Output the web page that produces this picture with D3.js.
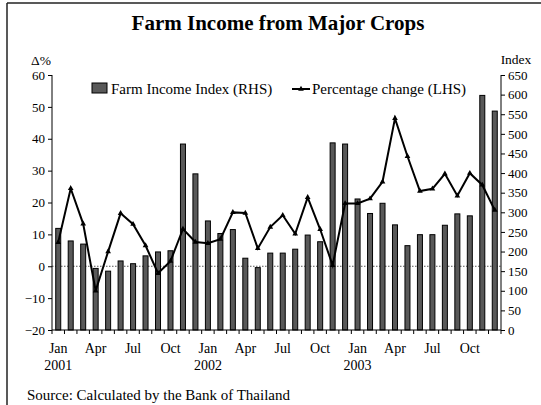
<!DOCTYPE html>
<html><head><meta charset="utf-8">
<script src="https://cdn.jsdelivr.net/npm/d3@7"></script>
<style>
body{margin:0;background:#fff;}
text{font-family:"Liberation Serif","Times New Roman",serif;fill:#000;}
</style></head>
<body><svg id="c" width="541" height="405"></svg>
<script>
const months = ["Jan","Feb","Mar","Apr","May","Jun","Jul","Aug","Sep","Oct","Nov","Dec"];
const years = ["2001","2002","2003"];
const indexRHS = [259,227,219,157,150,176,169,189,199,202,474,398,
                  278,246,256,183,159,196,196,206,242,225,477,474,
                  334,297,323,268,215,243,243,267,296,291,598,558];
const pctLHS = [7.5,24.4,13.3,-7.7,4.6,16.6,13.2,6.5,-2.2,1.6,11.7,7.6,
                7.2,8.5,16.9,16.7,5.6,12.3,16.0,10.2,21.6,11.6,0.3,19.7,
                19.7,21.2,26.5,46.4,34.5,23.6,24.3,29.0,22.1,29.2,25.5,17.6];
const leftTicks = [-20,-10,0,10,20,30,40,50,60];
const rightTicks = [0,50,100,150,200,250,300,350,400,450,500,550,600,650];
const title = "Farm Income from Major Crops";
const legendLabels = ["Farm Income Index (RHS)","Percentage change (LHS)"];
const source = "Source:  Calculated by the Bank of Thailand";

const keys = [];
years.forEach(y => months.forEach(m => keys.push(m + " " + y)));

const svg = d3.select("#c");
const L = 52, R = 501, T = 75, B = 330;

// frame
svg.append("line").attr("x1",7).attr("x2",541).attr("y1",3).attr("y2",3).attr("stroke","#222").attr("stroke-width",1.5);
svg.append("line").attr("x1",7).attr("x2",7).attr("y1",3).attr("y2",405).attr("stroke","#222").attr("stroke-width",1.5);

svg.append("text").attr("x",278).attr("y",30).attr("text-anchor","middle")
  .style("font-size","21px").style("font-weight","bold").text(title);

const x = d3.scaleBand().domain(keys).range([L,R]);
const yL = d3.scaleLinear().domain([-20,60]).range([B,T]);
const yR = d3.scaleLinear().domain([0,650]).range([B,T]);

// zero line
svg.append("line").attr("x1",L).attr("x2",R).attr("y1",yL(0)).attr("y2",yL(0))
  .attr("stroke","#555").attr("stroke-width",1).attr("stroke-dasharray","1.5,1.5");

// bars
const bw = 6;
svg.append("g").selectAll("rect").data(indexRHS).join("rect")
  .attr("x",(d,i)=>x(keys[i]) + x.bandwidth()/2 - bw/2 + 0.5)
  .attr("y",d=>yR(d))
  .attr("width",bw-1)
  .attr("height",d=>yR(0)-yR(d))
  .attr("fill","#595959").attr("stroke","#000").attr("stroke-width",1);

// line
const line = d3.line().x((d,i)=>x(keys[i])+x.bandwidth()/2).y(d=>yL(d));
svg.append("path").datum(pctLHS).attr("d",line).attr("fill","none")
  .attr("stroke","#000").attr("stroke-width",2).attr("stroke-linejoin","miter");
const tri = d3.symbol().type(d3.symbolTriangle).size(14);
svg.append("g").selectAll("path").data(pctLHS).join("path")
  .attr("transform",(d,i)=>`translate(${x(keys[i])+x.bandwidth()/2},${yL(d)})`)
  .attr("d",tri).attr("fill","#000");

// axes
const axL = svg.append("g").attr("transform",`translate(${L},0)`)
  .call(d3.axisLeft(yL).tickValues(leftTicks).tickSize(4).tickPadding(3).tickFormat(d3.format("d")));
const axR = svg.append("g").attr("transform",`translate(${R},0)`)
  .call(d3.axisRight(yR).tickValues(rightTicks).tickSize(4).tickPadding(3));
const axB = svg.append("g").attr("transform",`translate(0,${B})`)
  .call(d3.axisBottom(x).tickValues([]).tickSizeOuter(0));
[axL,axR,axB].forEach(a=>{
  a.select(".domain").attr("stroke","#000").attr("stroke-width",1);
  a.selectAll(".tick line").attr("stroke","#000");
  a.selectAll("text").style("font-size","13px").style("font-family","Liberation Serif");
});
axL.select(".domain").attr("d",`M-0,${B}V${T}`);
axR.select(".domain").attr("d",`M0,${B}V${T}`);
// bottom ticks at band boundaries
const bounds = keys.map(k=>x(k)).concat([R]);
axB.selectAll(".bt").data(bounds).join("line").attr("class","bt")
  .attr("x1",d=>d).attr("x2",d=>d).attr("y1",0).attr("y2",4).attr("stroke","#000");
axB.select(".domain").attr("d",`M${L},0H${R}`);

// month labels
const lab = keys.filter((k,i)=>i%3===0);
svg.append("g").selectAll("text").data(lab).join("text")
  .attr("x",k=>x(k)+x.bandwidth()/2).attr("y",353).attr("text-anchor","middle")
  .style("font-size","14px").text(k=>k.split(" ")[0]);
svg.append("g").selectAll("text").data(years).join("text")
  .attr("x",yv=>x("Jan "+yv)+x.bandwidth()/2).attr("y",370).attr("text-anchor","middle")
  .style("font-size","14px").text(d=>d);

// axis titles
svg.append("text").attr("x",41).attr("y",65).attr("text-anchor","middle").style("font-size","13.5px").text("Δ%");
svg.append("text").attr("x",516).attr("y",64).attr("text-anchor","middle").style("font-size","13.5px").text("Index");

// legend
svg.append("rect").attr("x",92).attr("y",83).attr("width",15).attr("height",10)
  .attr("fill","#595959").attr("stroke","#000");
svg.append("text").attr("x",111).attr("y",94).style("font-size","15px").text(legendLabels[0]);
svg.append("line").attr("x1",292).attr("x2",310).attr("y1",89).attr("y2",89).attr("stroke","#000").attr("stroke-width",2);
svg.append("path").attr("transform","translate(301,89)").attr("d",tri).attr("fill","#000");
svg.append("text").attr("x",312).attr("y",94).style("font-size","15px").text(legendLabels[1]);

svg.append("text").attr("x",27).attr("y",400).style("font-size","15px").text(source);
</script></body></html>
